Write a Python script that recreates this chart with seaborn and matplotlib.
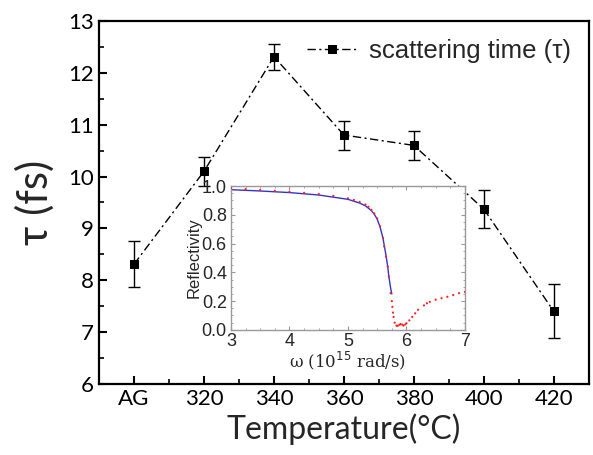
import numpy as np
import pandas as pd
import matplotlib
matplotlib.use('Agg')
import matplotlib.pyplot as plt
from matplotlib.ticker import MultipleLocator
import seaborn as sns

# ---- data ----
temp = [300, 320, 340, 360, 380, 400, 420]
temp_labels = ['AG', '320', '340', '360', '380', '400', '420']
tau = [8.31, 10.10, 12.31, 10.80, 10.60, 9.37, 7.40]
tau_err = [0.44, 0.28, 0.25, 0.28, 0.28, 0.37, 0.52]

# inset: measured (red dots) and fitted (blue line) reflectivity
omega_meas = [3.0, 3.25, 3.5, 3.75, 4.0, 4.25, 4.5, 4.75, 5.0, 5.1, 5.2, 5.3, 5.35,
              5.4, 5.45, 5.5, 5.55, 5.6, 5.62, 5.65, 5.68, 5.7, 5.73, 5.75, 5.76,
              5.77, 5.78, 5.8, 5.83, 5.85, 5.88, 5.9, 5.93, 5.95, 5.98, 6.0, 6.05,
              6.1, 6.15, 6.2, 6.3, 6.35, 6.4, 6.5, 6.6, 6.7, 6.8, 6.9, 7.0]
refl_meas = [0.984, 0.979, 0.974, 0.967, 0.960, 0.953, 0.945, 0.932, 0.915, 0.904,
             0.890, 0.872, 0.856, 0.835, 0.810, 0.775, 0.720, 0.640, 0.580, 0.510,
             0.440, 0.370, 0.255, 0.200, 0.160, 0.120, 0.090, 0.050, 0.030, 0.028,
             0.035, 0.040, 0.036, 0.030, 0.038, 0.046, 0.066, 0.090, 0.115, 0.140,
             0.170, 0.185, 0.195, 0.210, 0.220, 0.230, 0.242, 0.255, 0.264]
omega_fit = [3.0, 3.5, 4.0, 4.5, 5.0, 5.2, 5.3, 5.4, 5.45, 5.5, 5.55, 5.6, 5.65,
             5.68, 5.7, 5.73, 5.75]
refl_fit = [0.975, 0.966, 0.955, 0.938, 0.908, 0.882, 0.862, 0.830, 0.805, 0.770,
            0.715, 0.635, 0.520, 0.440, 0.370, 0.290, 0.250]

main_df = pd.DataFrame({'T': temp, 'tau': tau})
meas_df = pd.DataFrame({'w': omega_meas, 'R': refl_meas})
fit_df = pd.DataFrame({'w': omega_fit, 'R': refl_fit})

sns.set_style('ticks', {'axes.spines.top': True, 'axes.spines.right': True})
plt.rcParams['font.family'] = ['Lato', 'DejaVu Sans']

fig = plt.figure(figsize=(5.93, 4.55), dpi=100)
ax = fig.add_axes([0.167, 0.156, 0.826, 0.798])

# main panel: scattering time vs annealing temperature
ax.errorbar(temp, tau, yerr=tau_err, fmt='none', ecolor='black',
            elinewidth=1.0, capsize=4, capthick=1.0, zorder=2)
sns.lineplot(data=main_df, x='T', y='tau', ax=ax, color='black', lw=1.0,
             marker='s', markersize=5.5, markeredgecolor='black',
             label='scattering time (\u03c4)', zorder=3)
ax.lines[-1].set_dashes([6, 2.5, 1.5, 2.5])

ax.set_xlim(290, 430)
ax.set_ylim(6, 13)
ax.set_xticks(temp)
ax.set_xticklabels(temp_labels)
ax.xaxis.set_minor_locator(MultipleLocator(10))
ax.yaxis.set_major_locator(MultipleLocator(1))
ax.yaxis.set_minor_locator(MultipleLocator(0.5))
ax.tick_params(which='both', direction='in', top=False, right=False,
               labelsize=16, colors='black')
ax.tick_params(which='major', length=6, width=1.5)
ax.tick_params(which='minor', length=3.5, width=1.2)
for s in ax.spines.values():
    s.set_linewidth(1.6)
    s.set_edgecolor('black')
    s.set_visible(True)
    s.set_zorder(5)
ax.set_xlabel('Temperature(\u00b0C)', fontsize=23, labelpad=3)
ax.set_ylabel('\u03c4 (fs)', fontsize=30, labelpad=10)

leg = ax.legend(loc='upper right', frameon=False,
                prop={'family': ['Liberation Sans'], 'size': 18.5},
                handlelength=1.9, handletextpad=0.5, borderaxespad=0.3)

# inset: reflectivity spectrum
axi = fig.add_axes([0.3895, 0.275, 0.3945, 0.316])
sns.lineplot(data=fit_df, x='w', y='R', ax=axi, color='#3333cc', lw=1.0, zorder=2)
sns.scatterplot(data=meas_df, x='w', y='R', ax=axi, color='#ff2020', s=2.5,
                edgecolor='none', zorder=3)
axi.set_xlim(3, 7)
axi.set_ylim(0, 1.0)
axi.xaxis.set_major_locator(MultipleLocator(1))
axi.xaxis.set_minor_locator(MultipleLocator(0.25))
axi.yaxis.set_major_locator(MultipleLocator(0.2))
axi.yaxis.set_minor_locator(MultipleLocator(0.05))
axi.tick_params(which='both', direction='in', color='#999999', top=True,
                right=True, labelsize=13)
axi.tick_params(axis='x', pad=2)
axi.tick_params(axis='y', pad=3)
axi.tick_params(which='major', length=3)
axi.tick_params(which='minor', length=1.5)
for lab in axi.get_xticklabels() + axi.get_yticklabels():
    lab.set_family(['Liberation Sans'])
for s in axi.spines.values():
    s.set_visible(True)
    s.set_edgecolor('#999999')
    s.set_linewidth(1.0)
axi.set_xlabel('\u03c9 (10$^{15}$ rad/s)', fontsize=12, labelpad=0,
               family=['DejaVu Serif'])
axi.set_ylabel('Reflectivity', fontsize=12, labelpad=0, family=['Liberation Sans'])

fig.savefig('out.png', dpi=100)
